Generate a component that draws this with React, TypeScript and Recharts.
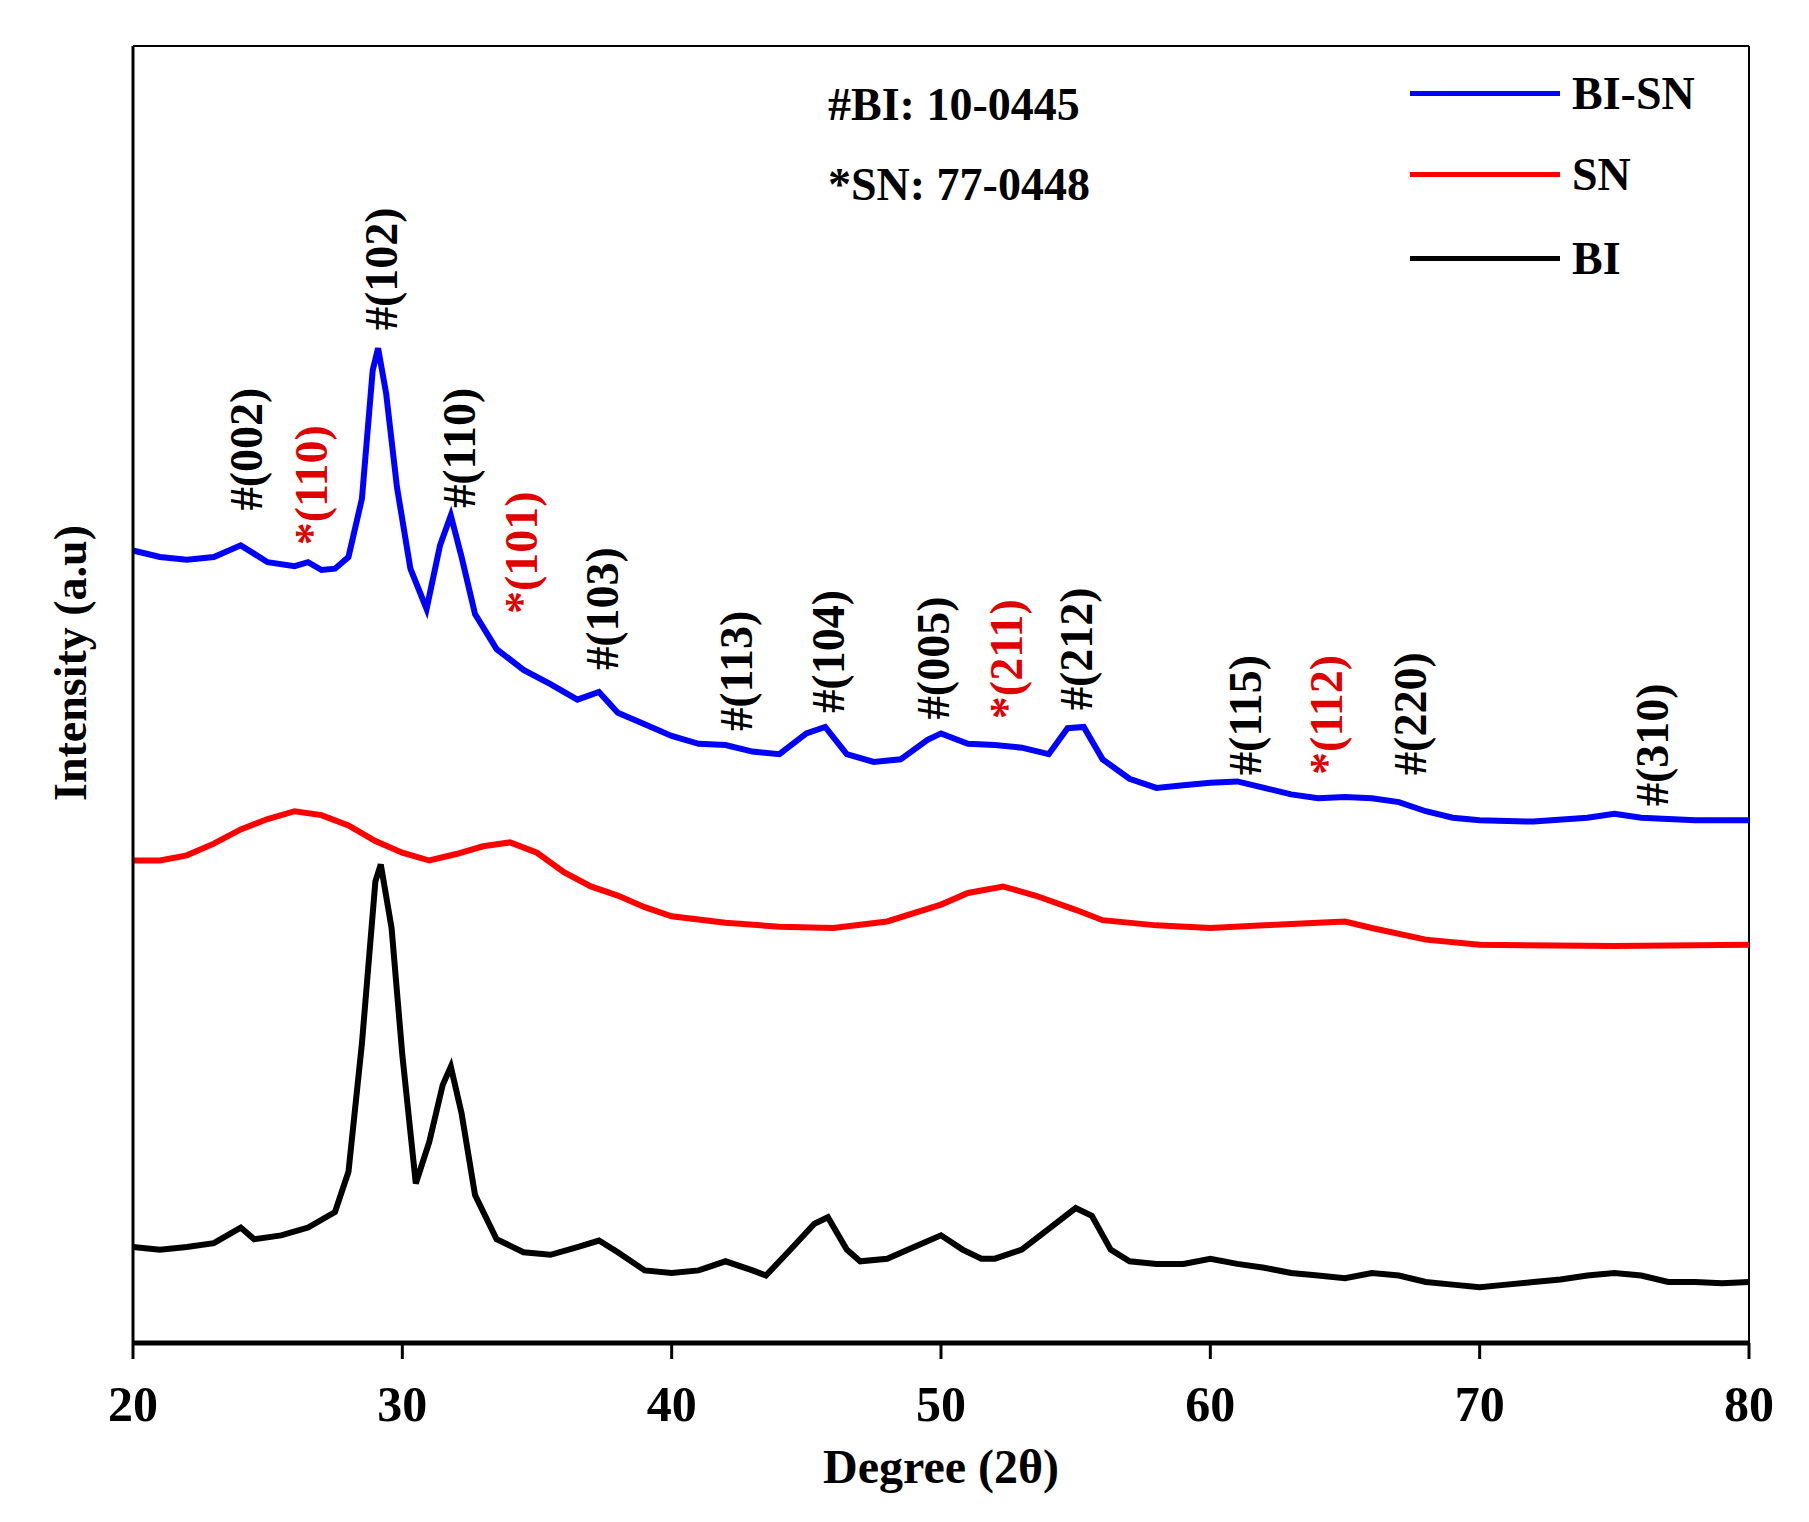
import { LineChart, Line, XAxis, YAxis, ReferenceDot, ReferenceLine, Legend } from "recharts";

const biX = [20, 21, 22, 23, 24, 24.5, 25.5, 26.5, 27.5, 28, 28.5, 29, 29.2, 29.6, 30, 30.5, 31, 31.5, 31.8, 32.2, 32.7, 33.5, 34.5, 35.5, 36.5, 37.3, 38, 39, 40, 41, 42, 43, 43.5, 44.5, 45.3, 45.8, 46.5, 47, 48, 49, 50, 50.8, 51.5, 52, 53, 54, 55, 55.6, 56.3, 57, 58, 59, 60, 61, 62, 63, 64, 65, 66, 67, 68, 69, 70, 71, 72, 73, 74, 75, 76, 77, 78, 79, 80];
const biY = [7.4, 7.2, 7.4, 7.7, 8.9, 8.0, 8.3, 8.9, 10.1, 13.2, 23.1, 35.6, 36.9, 32.0, 22.2, 12.3, 15.5, 19.9, 21.3, 17.7, 11.4, 8.0, 7.0, 6.8, 7.4, 7.9, 7.0, 5.6, 5.4, 5.6, 6.3, 5.6, 5.2, 7.4, 9.2, 9.7, 7.2, 6.3, 6.5, 7.4, 8.3, 7.2, 6.5, 6.5, 7.2, 8.8, 10.4, 9.8, 7.2, 6.3, 6.1, 6.1, 6.5, 6.1, 5.8, 5.4, 5.2, 5.0, 5.4, 5.2, 4.7, 4.5, 4.3, 4.5, 4.7, 4.9, 5.2, 5.4, 5.2, 4.7, 4.7, 4.6, 4.7];

const snX = [20, 21, 22, 23, 24, 25, 26, 27, 28, 29, 30, 31, 32, 33, 34, 35, 36, 37, 38, 39, 40, 42, 44, 46, 48, 50, 51, 52.3, 53.5, 55, 56, 58, 60, 62, 64, 65, 66, 68, 70, 75, 80];
const snY = [37.2, 37.2, 37.6, 38.5, 39.6, 40.4, 41.0, 40.7, 39.9, 38.7, 37.8, 37.2, 37.7, 38.3, 38.6, 37.8, 36.3, 35.2, 34.5, 33.6, 32.9, 32.4, 32.1, 32.0, 32.5, 33.8, 34.7, 35.2, 34.5, 33.4, 32.6, 32.2, 32.0, 32.2, 32.4, 32.5, 32.0, 31.1, 30.7, 30.6, 30.7];

const bisnX = [20, 21, 22, 23, 24, 25, 26, 26.5, 27, 27.5, 28, 28.5, 28.9, 29.1, 29.4, 29.8, 30.3, 30.9, 31.4, 31.8, 32.2, 32.7, 33.5, 34.5, 35.5, 36.5, 37.3, 38, 39, 40, 41, 42, 43, 44, 45, 45.7, 46.5, 47.5, 48.5, 49.5, 50, 51, 52, 53, 54, 54.7, 55.3, 56, 57, 58, 59, 60, 61, 62, 63, 64, 65, 66, 67, 68, 69, 70, 72, 74, 75, 76, 78, 80];
const bisnY = [61.1, 60.6, 60.4, 60.6, 61.5, 60.2, 59.9, 60.2, 59.6, 59.7, 60.6, 65.1, 75.0, 76.7, 73.2, 66.0, 59.7, 56.6, 61.5, 63.8, 60.6, 56.2, 53.5, 51.9, 50.8, 49.6, 50.2, 48.6, 47.7, 46.8, 46.2, 46.1, 45.6, 45.4, 47.0, 47.5, 45.4, 44.8, 45.0, 46.5, 47.0, 46.2, 46.1, 45.9, 45.4, 47.4, 47.5, 45.0, 43.5, 42.8, 43.0, 43.2, 43.3, 42.8, 42.3, 42.0, 42.1, 42.0, 41.7, 41.0, 40.5, 40.3, 40.2, 40.5, 40.8, 40.5, 40.3, 40.3];

const peakLabels = ["#(002)", "*(110)", "#(102)", "#(110)", "*(101)", "#(103)", "#(113)", "#(104)", "#(005)", "*(211)", "#(212)", "#(115)", "*(112)", "#(220)", "#(310)"];
const peakX = [24.2, 26.6, 29.2, 32.1, 34.4, 37.4, 42.4, 45.8, 49.7, 52.4, 55.0, 61.3, 64.3, 67.4, 76.4];
const peakY = [64.2, 61.5, 78.1, 64.4, 56.2, 51.9, 47.2, 48.6, 48.1, 48.1, 48.8, 43.8, 43.8, 43.8, 41.4];

const xTicks = [20, 30, 40, 50, 60, 70, 80];

const toPoints = (xs: number[], ys: number[]) => xs.map((x, i) => ({ x, y: ys[i] }));

const FONT = "'Liberation Serif', 'Times New Roman', serif";

function LegendBox() {
  const items = [
    { name: "BI-SN", color: "#0000ff", top: 93 },
    { name: "SN", color: "#ff0000", top: 174 },
    { name: "BI", color: "#000000", top: 258 },
  ];
  return (
    <div style={{ fontFamily: FONT, fontWeight: "bold", fontSize: 46, whiteSpace: "nowrap", color: "#000" }}>
      <div style={{ position: "absolute", left: 828, top: 65, lineHeight: "80px" }}>
        <div>#BI: 10-0445</div>
        <div>*SN: 77-0448</div>
      </div>
      {items.map((it) => (
        <div key={it.name} style={{ position: "absolute", left: 1410, top: it.top - 30, height: 60, display: "flex", alignItems: "center" }}>
          <div style={{ width: 150, height: 5, background: it.color }} />
          <span style={{ marginLeft: 12 }}>{it.name}</span>
        </div>
      ))}
      <div
        style={{
          position: "absolute",
          left: 70,
          top: 663,
          transform: "translate(-50%, -50%) rotate(-90deg)",
        }}
      >
        Intensity (a.u)
      </div>
    </div>
  );
}

export default function App() {
  return (
    <div style={{ position: "absolute", left: 0, top: 0, width: 1809, height: 1522, background: "#fff" }}>
      <LineChart width={1809} height={1522} margin={{ top: 46, right: 60, left: 33, bottom: 39 }}>
        <XAxis
          type="number"
          dataKey="x"
          domain={[20, 80]}
          ticks={xTicks}
          height={140}
          tickSize={16}
          axisLine={{ stroke: "#000", strokeWidth: 5 }}
          tickLine={{ stroke: "#000", strokeWidth: 3 }}
          tick={{ fill: "#000", fontSize: 50, fontWeight: "bold", fontFamily: FONT, dy: 24 }}
          label={{ value: "Degree (2θ)", position: "insideBottom", offset: 0, fill: "#000", fontSize: 48, fontWeight: "bold", fontFamily: FONT }}
        />
        <YAxis
          type="number"
          domain={[0, 100]}
          width={100}
          tick={false}
          tickLine={false}
          axisLine={{ stroke: "#000", strokeWidth: 3 }}
        />
        <ReferenceLine x={80} stroke="#000" strokeWidth={2} />
        <ReferenceLine y={100} stroke="#000" strokeWidth={2} />
        <Line data={toPoints(bisnX, bisnY)} dataKey="y" stroke="#0000ff" strokeWidth={6} dot={false} isAnimationActive={false} />
        <Line data={toPoints(snX, snY)} dataKey="y" stroke="#ff0000" strokeWidth={6} dot={false} isAnimationActive={false} />
        <Line data={toPoints(biX, biY)} dataKey="y" stroke="#000000" strokeWidth={6} dot={false} isAnimationActive={false} />
        {peakLabels.map((lab, i) => (
          <ReferenceDot
            key={lab + i}
            x={peakX[i]}
            y={peakY[i]}
            r={0}
            shape={(p: any) => (
              <text
                x={p.cx}
                y={p.cy}
                transform={`rotate(-90 ${p.cx} ${p.cy})`}
                dy={16}
                fontSize={46}
                fontWeight="bold"
                fontFamily={FONT}
                fill={lab.startsWith("*") ? "#e00000" : "#000"}
              >
                {lab}
              </text>
            )}
          />
        ))}
        <Legend content={() => <LegendBox />} wrapperStyle={{ position: "absolute", left: 0, top: 0, width: 0, height: 0 }} />
      </LineChart>
    </div>
  );
}
